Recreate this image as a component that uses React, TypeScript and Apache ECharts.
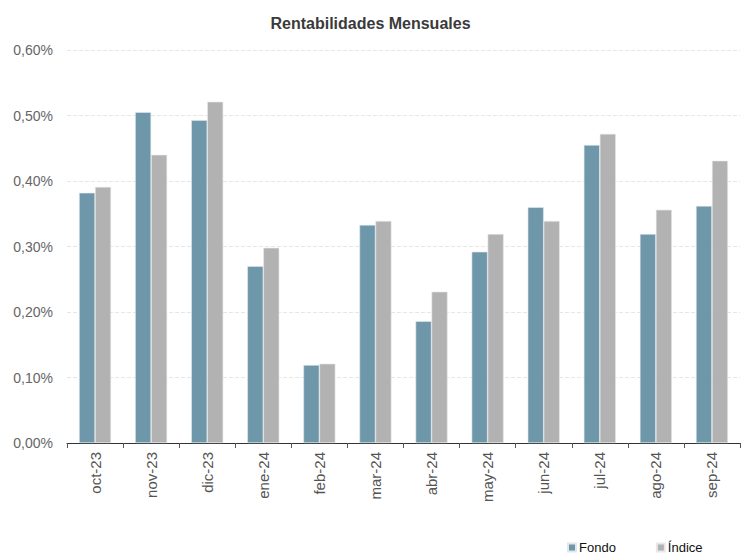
import React, { useEffect, useRef } from "react";
import * as echarts from "echarts";

const categories = ["oct-23", "nov-23", "dic-23", "ene-24", "feb-24", "mar-24", "abr-24", "may-24", "jun-24", "jul-24", "ago-24", "sep-24"];
const fondo = [0.382, 0.505, 0.493, 0.27, 0.119, 0.333, 0.186, 0.292, 0.36, 0.455, 0.319, 0.362];
const indice = [0.391, 0.44, 0.521, 0.298, 0.121, 0.339, 0.231, 0.319, 0.339, 0.472, 0.356, 0.431];

export default function App() {
  const ref = useRef<HTMLDivElement>(null);
  useEffect(() => {
    const chart = echarts.init(ref.current!, null, { renderer: "svg" });
    const font = "'Liberation Sans', Arial, sans-serif";
    chart.setOption({
      animation: false,
      textStyle: { fontFamily: font },
      title: {
        text: "Rentabilidades Mensuales",
        left: "center",
        top: 10,
        textStyle: { fontSize: 16, fontWeight: "bold", color: "#3a3a3a", fontFamily: font },
      },
      legend: {
        left: 562,
        top: 536,
        itemWidth: 8,
        itemHeight: 8,
        itemGap: 40,
        icon: "rect",
        textStyle: { fontSize: 13, color: "#111", fontFamily: font, padding: [0, 0, 0, -2] },
        data: ["Fondo", "Índice"],
      },
      grid: { left: 67, right: 1, top: 50, bottom: 114, containLabel: false },
      xAxis: {
        type: "category",
        data: categories,
        axisLine: { lineStyle: { color: "#333", width: 1 } },
        axisTick: { show: true, length: 5, lineStyle: { color: "#555" } },
        axisLabel: { rotate: 90, fontSize: 15, color: "#555", margin: 9, fontFamily: font },
      },
      yAxis: {
        type: "value",
        min: 0,
        max: 0.6,
        interval: 0.1,
        axisLine: { show: false },
        axisTick: { show: false },
        axisLabel: {
          fontSize: 14,
          color: "#666",
          margin: 14,
          fontFamily: font,
          formatter: (v: number) => v.toFixed(2).replace(".", ",") + "%",
        },
        splitLine: { lineStyle: { color: "#e6e6e6", type: "dashed" } },
      },
      series: [
        {
          name: "Fondo",
          type: "bar",
          data: fondo,
          barWidth: 16,
          barGap: "0%",
          itemStyle: { color: "#6e97aa", borderColor: "#dfe8ec", borderWidth: 0.6 },
        },
        {
          name: "Índice",
          type: "bar",
          data: indice,
          barWidth: 16,
          barGap: "0%",
          itemStyle: { color: "#b2b2b2", borderColor: "#e8e8e8", borderWidth: 0.6 },
        },
      ],
    });
    return () => chart.dispose();
  }, []);
  return <div ref={ref} style={{ position: "fixed", left: 0, top: 0, width: 741, height: 557, background: "#fff" }} />;
}
